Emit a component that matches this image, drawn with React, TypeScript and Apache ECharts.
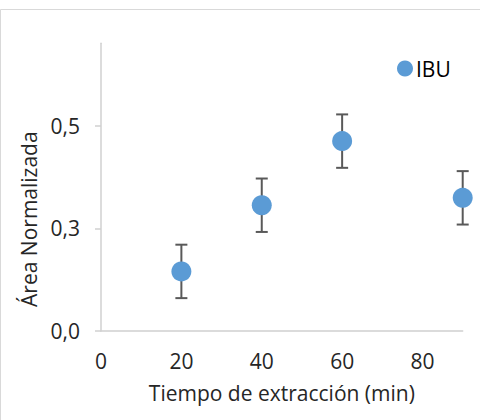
import React, { useEffect, useRef } from "react";
import * as echarts from "echarts";

const xValues = [20, 40, 60, 90];
const yValues = [0.145, 0.306, 0.462, 0.324];
const errValues = [0.065, 0.065, 0.065, 0.065];
const yTicks = [0, 0.25, 0.5];
const xTicks = [0, 20, 40, 60, 80];
const seriesName = "IBU";
const xTitle = "Tiempo de extracción (min)";
const yTitle = "Área Normalizada";

const FONT = "Open Sans";
const FS = 21;

export default function App() {
  const ref = useRef<HTMLDivElement>(null);
  useEffect(() => {
    if (!ref.current) return;
    const chart = echarts.init(ref.current, null, { renderer: "svg" });
    const points = xValues.map((x, i) => [x, yValues[i]]);
    const errs = xValues.map((x, i) => [x, yValues[i], errValues[i]]);
    chart.setOption({
      animation: false,
      backgroundColor: "#ffffff",
      textStyle: { fontFamily: FONT },
      graphic: [
        {
          type: "rect",
          shape: { x: 0.5, y: 9.5, width: 480, height: 420 },
          style: { fill: "none", stroke: "#d9d9d9", lineWidth: 1 },
          silent: true,
        },
      ],
      grid: { left: 101, right: 17.3, top: 43.3, bottom: 89 },
      legend: {
        data: [seriesName],
        left: 392,
        top: 53,
        icon: "circle",
        itemWidth: 16,
        itemHeight: 16,
        itemGap: 4,
        textStyle: { fontFamily: FONT, fontSize: FS, color: "#000000", padding: [0, 0, 0, -2] },
      },
      xAxis: {
        type: "value",
        min: 0,
        max: 90,
        interval: 20,
        name: xTitle,
        nameLocation: "middle",
        nameGap: 51,
        nameTextStyle: { fontFamily: FONT, fontSize: FS, color: "#262626" },
        axisLine: { show: true, onZero: false, lineStyle: { color: "#d0d0d0", width: 1.5 } },
        axisTick: { show: false },
        splitLine: { show: false },
        axisLabel: {
          customValues: xTicks,
          fontFamily: FONT,
          fontSize: FS,
          color: "#262626",
          margin: 19,
          formatter: (v: number) => String(v),
        },
      },
      yAxis: {
        type: "value",
        min: 0,
        max: 0.7,
        interval: 0.25,
        name: yTitle,
        nameLocation: "middle",
        nameGap: 57,
        nameTextStyle: { fontFamily: FONT, fontSize: FS, color: "#262626", padding: [0, 64, 0, 0] },
        axisLine: { show: true, lineStyle: { color: "#d0d0d0", width: 1.5 } },
        axisTick: { show: true, customValues: yTicks, length: 6, lineStyle: { color: "#d0d0d0", width: 1.5 } },
        splitLine: { show: false },
        axisLabel: {
          customValues: yTicks,
          fontFamily: FONT,
          fontSize: FS,
          color: "#262626",
          margin: 21,
          formatter: (v: number) => v.toFixed(1).replace(".", ","),
        },
      },
      series: [
        {
          type: "custom",
          name: "err",
          data: errs,
          z: 1,
          silent: true,
          renderItem: (params: any, api: any) => {
            const x = api.value(0);
            const y = api.value(1);
            const e = api.value(2);
            const hi = api.coord([x, y + e]);
            const lo = api.coord([x, y - e]);
            const cap = 6;
            const style = { stroke: "#595959", lineWidth: 2 };
            return {
              type: "group",
              children: [
                { type: "line", shape: { x1: hi[0], y1: hi[1], x2: lo[0], y2: lo[1] }, style },
                { type: "line", shape: { x1: hi[0] - cap, y1: hi[1], x2: hi[0] + cap, y2: hi[1] }, style },
                { type: "line", shape: { x1: lo[0] - cap, y1: lo[1], x2: lo[0] + cap, y2: lo[1] }, style },
              ],
            };
          },
        },
        {
          type: "scatter",
          name: seriesName,
          data: points,
          symbol: "circle",
          symbolSize: 20,
          z: 5,
          itemStyle: { color: "#5b9bd5", opacity: 1 },
        },
      ],
    });
    return () => chart.dispose();
  }, []);
  return (
    <div
      ref={ref}
      style={{ position: "fixed", left: 0, top: 0, width: 480, height: 420 }}
    />
  );
}
